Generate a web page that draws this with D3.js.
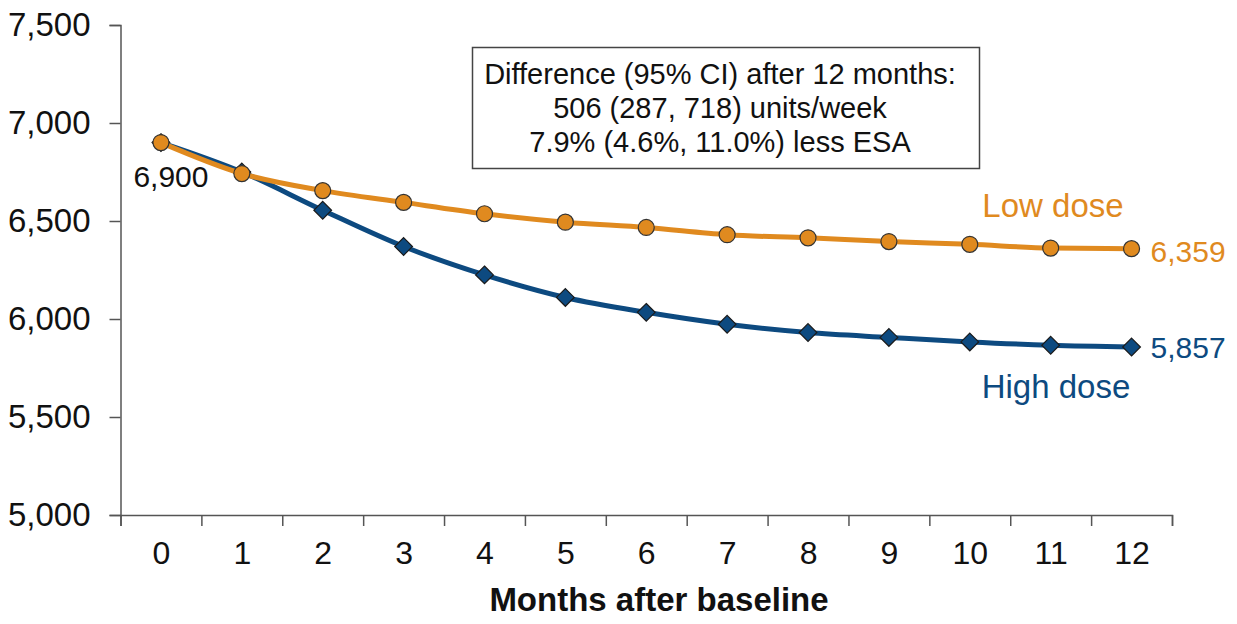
<!DOCTYPE html>
<html>
<head>
<meta charset="utf-8">
<script src="https://cdn.jsdelivr.net/npm/d3@7"></script>
<style>
  body { margin: 0; background: #fff; }
  svg text { font-family: "Liberation Sans", Arial, sans-serif; }
</style>
</head>
<body>
<script>
// Months after baseline
var months = [0, 1, 2, 3, 4, 5, 6, 7, 8, 9, 10, 11, 12];
// ESA dose (units/week)
var lowDose  = [6900, 6742, 6655, 6595, 6537, 6494, 6467, 6430, 6414, 6395, 6381, 6362, 6359];
var highDose = [6900, 6750, 6555, 6370, 6225, 6110, 6034, 5973, 5931, 5906, 5883, 5866, 5857];
var yTicks = [5000, 5500, 6000, 6500, 7000, 7500];
var boxLines = [
  'Difference (95% CI) after 12 months:',
  '506 (287, 718) units/week',
  '7.9% (4.6%, 11.0%) less ESA'
];

var orange = '#E08A1F', blue = '#0D4A80';
var width = 1237, height = 624;

var svg = d3.select('body').append('svg')
  .attr('width', width)
  .attr('height', height);

var x = d3.scaleLinear()
  .domain([-0.5, 12.5])
  .range([120.5, 1172]);

var y = d3.scaleLinear()
  .domain([5000, 7500])
  .range([515, 25]);

// y axis
var yAxis = svg.append('g')
  .attr('transform', 'translate(120.5,0)')
  .call(d3.axisLeft(y).tickValues(yTicks).tickSize(11).tickPadding(19).tickFormat(d3.format(',')));
yAxis.select('.domain').attr('stroke', '#555').attr('stroke-width', 1.5);
yAxis.selectAll('.tick line').attr('stroke', '#555').attr('stroke-width', 1.5);
yAxis.selectAll('text').attr('font-size', 33).attr('fill', '#111')
  .attr('font-family', '"Liberation Sans", Arial, sans-serif');

// x axis: boundary ticks, then month labels in the middle
var xTickBounds = d3.range(-0.5, 13, 1);
var xAxis = svg.append('g')
  .attr('transform', 'translate(0,515)')
  .call(d3.axisBottom(x).tickValues(xTickBounds).tickSize(11).tickFormat(''));
xAxis.select('.domain').attr('stroke', '#555').attr('stroke-width', 1.5);
xAxis.selectAll('.tick line').attr('stroke', '#555').attr('stroke-width', 1.5);

var xLabels = svg.append('g')
  .attr('transform', 'translate(0,515)')
  .call(d3.axisBottom(x).tickValues(months).tickSize(0).tickPadding(26));
xLabels.select('.domain').remove();
xLabels.selectAll('text').attr('font-size', 32).attr('fill', '#111')
  .attr('font-family', '"Liberation Sans", Arial, sans-serif');

svg.append('text')
  .attr('x', 659)
  .attr('y', 611)
  .attr('text-anchor', 'middle')
  .attr('font-size', 33)
  .attr('font-weight', 'bold')
  .attr('fill', '#111')
  .text('Months after baseline');

var line = d3.line()
  .x(function(d, i) { return x(months[i]); })
  .y(function(d) { return y(d); })
  .curve(d3.curveMonotoneX);

// high dose series
svg.append('path')
  .attr('d', line(highDose))
  .attr('fill', 'none')
  .attr('stroke', blue)
  .attr('stroke-width', 5);

svg.selectAll('.diamond')
  .data(highDose)
  .enter().append('path')
  .attr('class', 'diamond')
  .attr('d', d3.symbol(d3.symbolDiamond2, 200))
  .attr('transform', function(d, i) { return 'translate(' + x(months[i]) + ',' + y(d) + ')'; })
  .attr('fill', blue)
  .attr('stroke', '#1a1a1a')
  .attr('stroke-width', 1.2);

// low dose series
svg.append('path')
  .attr('d', line(lowDose))
  .attr('fill', 'none')
  .attr('stroke', orange)
  .attr('stroke-width', 5);

svg.selectAll('.dot')
  .data(lowDose)
  .enter().append('circle')
  .attr('class', 'dot')
  .attr('cx', function(d, i) { return x(months[i]); })
  .attr('cy', function(d) { return y(d); })
  .attr('r', 8)
  .attr('fill', orange)
  .attr('stroke', '#333')
  .attr('stroke-width', 1.2);

// value labels
var fmt = d3.format(',');
svg.append('text')
  .attr('x', x(0) + 10).attr('y', y(lowDose[0]) + 44)
  .attr('text-anchor', 'middle')
  .attr('font-size', 30).attr('fill', '#111')
  .text(fmt(lowDose[0]));

svg.append('text')
  .attr('x', x(12) + 19).attr('y', y(lowDose[12]) + 13)
  .attr('font-size', 30).attr('fill', orange)
  .text(fmt(lowDose[12]));

svg.append('text')
  .attr('x', x(12) + 19).attr('y', y(highDose[12]) + 11)
  .attr('font-size', 30).attr('fill', blue)
  .text(fmt(highDose[12]));

svg.append('text')
  .attr('x', 1053).attr('y', 217)
  .attr('text-anchor', 'middle')
  .attr('font-size', 33).attr('fill', orange)
  .text('Low dose');

svg.append('text')
  .attr('x', 1056).attr('y', 398)
  .attr('text-anchor', 'middle')
  .attr('font-size', 33).attr('fill', blue)
  .text('High dose');

// difference box
svg.append('rect')
  .attr('x', 472.5).attr('y', 47.5)
  .attr('width', 507).attr('height', 121)
  .attr('fill', '#fff')
  .attr('stroke', '#444')
  .attr('stroke-width', 1.5);

svg.selectAll('.boxline')
  .data(boxLines)
  .enter().append('text')
  .attr('class', 'boxline')
  .attr('x', 720)
  .attr('y', function(d, i) { return 84 + i * 34; })
  .attr('text-anchor', 'middle')
  .attr('font-size', 29)
  .attr('fill', '#111')
  .text(function(d) { return d; });
</script>
</body>
</html>
